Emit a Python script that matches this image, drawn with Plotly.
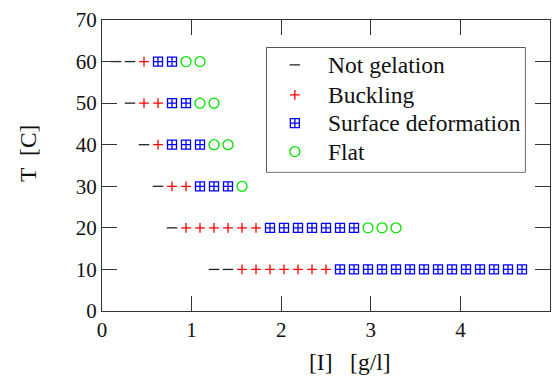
import plotly.graph_objects as go

STEP = 0.15625  # spacing of measured concentrations [g/l]

# Temperatures [C]
temps = [60, 50, 40, 30, 20, 10]

# index k of concentration (x = k*STEP) for each state, per temperature row
not_gel_k = {60: [1, 2], 50: [2], 40: [3], 30: [4], 20: [5], 10: [8, 9]}
buckling_k = {60: [3], 50: [3, 4], 40: [4], 30: [5, 6], 20: [6, 7, 8, 9, 10, 11],
              10: [10, 11, 12, 13, 14, 15, 16]}
surface_k = {60: [4, 5], 50: [5, 6], 40: [5, 6, 7], 30: [7, 8, 9],
             20: [12, 13, 14, 15, 16, 17, 18],
             10: list(range(17, 31))}
flat_k = {60: [6, 7], 50: [7, 8], 40: [8, 9], 30: [10], 20: [19, 20, 21], 10: []}

series_names = ["Not gelation", "Buckling", "Surface deformation", "Flat"]
x_title = "[I]\u00a0\u00a0\u00a0[g/l]"
y_title = "T\u00a0\u00a0[C]"


def pts(d):
    xs, ys = [], []
    for t in temps:
        for k in d[t]:
            xs.append(k * STEP)
            ys.append(t)
    return xs, ys


FONT = "Liberation Serif"
TXT = "#111111"
fig = go.Figure()

styles = [
    (not_gel_k, "line-ew", "#222222", 7.5),
    (buckling_k, "cross-thin", "#ff0000", 7),
    (surface_k, "square-cross-open", "#0000ff", 9),
    (flat_k, "circle-open", "#00e000", 10),
]

# legend geometry (paper coordinates of the box)
LX0, LX1, LY0, LY1 = 0.368, 0.944, 0.478, 0.904
leg_rows = [0.863, 0.621, 0.393, 0.164]

for i, ((d, sym, col, sz), name) in enumerate(zip(styles, series_names)):
    xs, ys = pts(d)
    mk = dict(symbol=sym, size=sz, color=col, line=dict(color=col, width=1.3))
    fig.add_trace(go.Scatter(x=xs, y=ys, mode="markers", name=name,
                             marker=mk, showlegend=False))
    fig.add_trace(go.Scatter(x=[0.1085], y=[leg_rows[i]], mode="markers",
                             marker=mk, showlegend=False, hoverinfo="skip",
                             xaxis="x2", yaxis="y2"))
    fig.add_annotation(x=0.231, y=leg_rows[i], xref="x2", yref="y2",
                       text=name, showarrow=False, xanchor="left",
                       yanchor="middle",
                       font=dict(family=FONT, size=23.5, color=TXT))

axis_common = dict(
    showgrid=False, zeroline=False, showline=True, linecolor="#333333",
    linewidth=1, mirror="ticks", ticks="inside", ticklen=15,
    tickcolor="#333333", tickwidth=1,
    tickfont=dict(family=FONT, size=21, color=TXT),
)
fig.update_xaxes(range=[0, 5], dtick=1, **axis_common)
fig.update_yaxes(range=[0, 70], dtick=10, **axis_common)

fig.update_layout(
    width=555, height=382,
    margin=dict(l=102, r=5, t=20, b=71),
    paper_bgcolor="white", plot_bgcolor="white",
    showlegend=False,
    xaxis2=dict(domain=[LX0, LX1], range=[0, 1], visible=False,
                anchor="y2", fixedrange=True),
    yaxis2=dict(domain=[LY0, LY1], range=[0, 1], visible=False,
                anchor="x2", fixedrange=True),
    shapes=[dict(type="rect", xref="paper", yref="paper",
                 x0=LX0, x1=LX1, y0=LY0, y1=LY1,
                 line=dict(color="#111111", width=1.3),
                 fillcolor="rgba(0,0,0,0)", layer="below")],
    font=dict(family=FONT, color=TXT),
)
fig.add_annotation(text=x_title, x=(350 - 102) / 448, y=-(362 - 311) / 291,
                   xref="paper", yref="paper", showarrow=False,
                   xanchor="center", yanchor="middle",
                   font=dict(family=FONT, size=23.5, color=TXT))
fig.add_annotation(text=y_title, x=(28 - 102) / 448, y=(311 - 154) / 291,
                   xref="paper", yref="paper", showarrow=False, textangle=-90,
                   xanchor="center", yanchor="middle",
                   font=dict(family=FONT, size=23.5, color=TXT))

fig.write_html("out.html")
